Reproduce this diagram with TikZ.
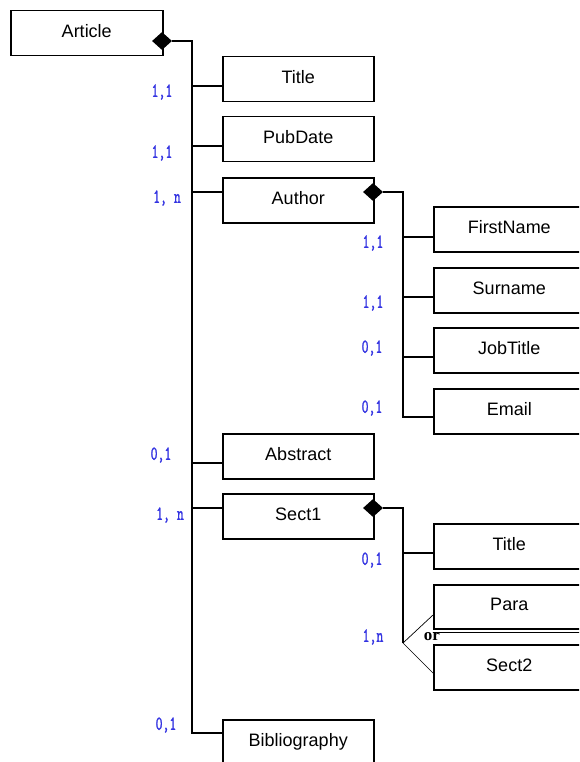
\documentclass[tikz,border=0pt]{standalone}
\usepackage{fontspec}
\setmainfont{Liberation Sans}
\newfontfamily\labfont[FakeStretch=0.67,FakeBold=1.2]{Latin Modern Mono}
\newfontfamily\orfont{Liberation Serif}
\usetikzlibrary{shapes.geometric}
\definecolor{labblue}{RGB}{50,50,225}
\begin{document}
\begin{tikzpicture}[x=1pt,y=-1pt,
  box/.style={draw, line width=1.5pt, minimum width=151pt, minimum height=45pt,
    inner sep=0pt, anchor=north west, text height=13pt, text depth=5pt,
    font=\fontsize{18}{20}\selectfont},
  dia/.style={diamond, fill=black, inner sep=0pt, minimum width=20pt, minimum height=18pt},
  bus/.style={line width=1.5pt},
  card/.style={text=labblue, inner sep=0pt, font=\labfont\fontsize{20}{21}\selectfont},
  orline/.style={line width=0.7pt}]
\useasboundingbox (0,0) rectangle (579,762);
\clip (0,0) rectangle (579,762);
% boxes
\node[box, minimum width=152pt] (article) at (10,10) {Article};
\node[box] (title) at (222,56) {Title};
\node[box] (pubdate) at (222,116) {PubDate};
\node[box] (author) at (222,177) {Author};
\node[box] (firstname) at (433,206) {FirstName};
\node[box] (surname) at (433,267) {Surname};
\node[box] (jobtitle) at (433,327) {JobTitle};
\node[box] (email) at (433,388) {Email};
\node[box] (abstract) at (222,433) {Abstract};
\node[box] (sect1) at (222,493) {Sect1};
\node[box] (title2) at (433,523) {Title};
\node[box, minimum height=44pt] (para) at (433,584) {Para};
\node[box] (sect2) at (433,644) {Sect2};
\node[box] (biblio) at (222,719) {Bibliography};
% diamonds
\node[dia] (articled) at (162,41) {};
\node[dia] (authord) at (373,192) {};
\node[dia] (sect1d) at (373,508) {};
% bus ends
\coordinate (abend) at (192,733);
\coordinate (aubend) at (403,417);
\coordinate (orv) at (403,643);
% buses
\draw[bus] (articled.east) -| (abend) -- (abend -| biblio.west);
\draw[bus] (authord.east) -| (aubend) -- (aubend -| email.west);
\draw[bus] (sect1d.east) -| (orv);
% branches of Article
\draw[bus] ([yshift=-30pt]title.north west) -- ++(-30,0);
\draw[bus] ([yshift=-30pt]pubdate.north west) -- ++(-30,0);
\draw[bus] ([yshift=-15pt]author.north west) -- ++(-30,0);
\draw[bus] ([yshift=-30pt]abstract.north west) -- ++(-30,0);
\draw[bus] ([yshift=-15pt]sect1.north west) -- ++(-30,0);
% branches of Author
\draw[bus] ([yshift=-31pt]firstname.north west) -- ++(-30,0);
\draw[bus] ([yshift=-30pt]surname.north west) -- ++(-30,0);
\draw[bus] ([yshift=-30pt]jobtitle.north west) -- ++(-30,0);
% branches of Sect1
\draw[bus] ([yshift=-30pt]title2.north west) -- ++(-30,0);
\draw[orline] ([yshift=-31pt]para.north west) -- (orv) -- ([yshift=-29pt]sect2.north west);
\draw[line width=1pt] ([yshift=-3pt]para.south west) -- ([yshift=-3pt]para.south east);
\node[inner sep=0pt, font=\orfont\bfseries\fontsize{17}{17}\selectfont] (or) at (432,637) {or};
% cardinalities
\node[card] (c1) at (162,92) {1,1};
\node[card] (c2) at (162,153) {1,1};
\node[card] (c3) at (167,198) {1, n};
\node[card] (c4) at (161,455) {0,1};
\node[card] (c5) at (170,515) {1, n};
\node[card] (c6) at (166,725) {0,1};
\node[card] (c7) at (373,243) {1,1};
\node[card] (c8) at (373,303) {1,1};
\node[card] (c9) at (372,348) {0,1};
\node[card] (c10) at (372,408) {0,1};
\node[card] (c11) at (372,560) {0,1};
\node[card] (c12) at (373,637) {1,n};
\end{tikzpicture}
\end{document}
